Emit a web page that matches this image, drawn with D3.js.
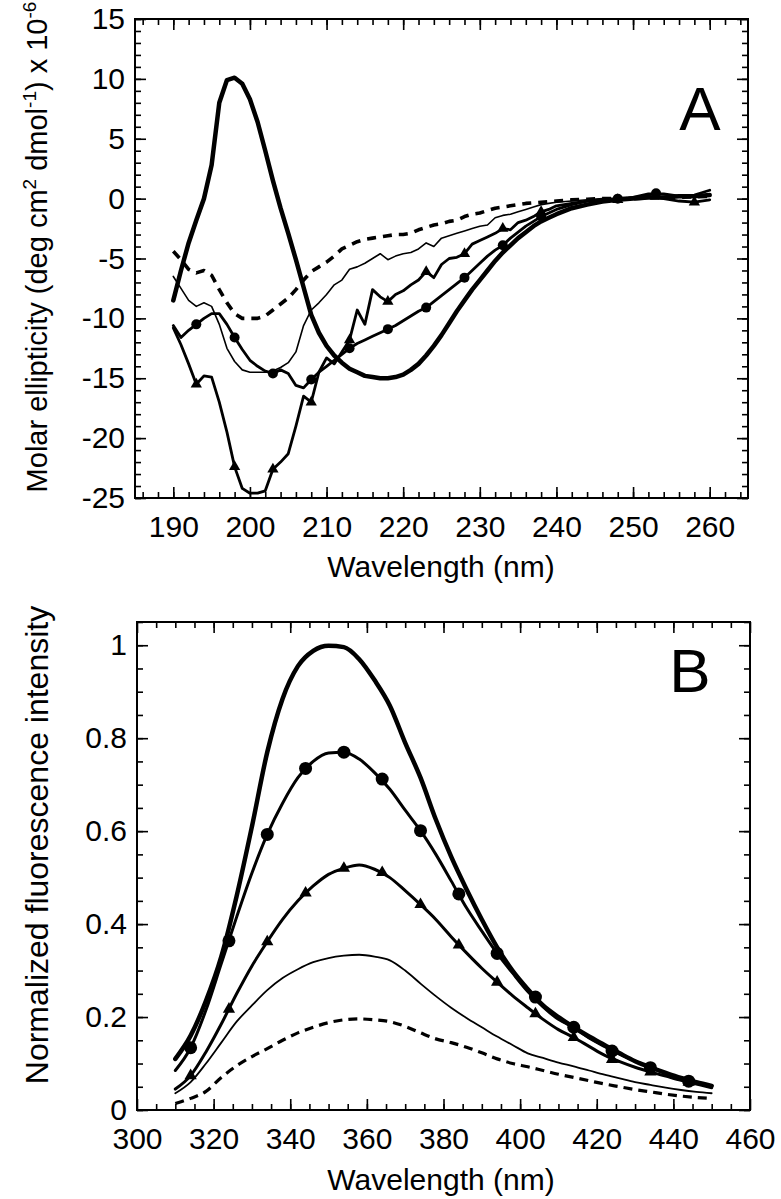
<!DOCTYPE html>
<html><head><meta charset="utf-8">
<script src="https://cdn.jsdelivr.net/npm/d3@7"></script>
<style>body{margin:0;background:#fff} svg{display:block}</style>
</head><body><svg id="c" width="781" height="1199"></svg>
<script>
// ---------- Panel A : CD spectra ----------
const cdWavelength = [190,191,192,193,194,195,196,197,198,199,200,201,202,203,204,205,206,207,208,209,210,211,212,213,214,215,216,217,218,219,220,221,222,223,224,225,226,227,228,229,230,231,232,233,234,235,236,237,238,239,240,242,244,246,248,250,252,254,256,258,260];
const cdThick = [-8.5,-6.0,-3.7,-1.8,0.0,2.8,8.0,9.9,10.1,9.6,8.3,6.4,4.0,1.5,-0.8,-2.9,-5.1,-7.4,-9.7,-11.2,-12.3,-13.1,-13.7,-14.2,-14.5,-14.8,-14.9,-15.0,-15.0,-14.9,-14.7,-14.3,-13.8,-13.1,-12.3,-11.4,-10.4,-9.4,-8.5,-7.6,-6.8,-6.0,-5.2,-4.5,-3.9,-3.3,-2.8,-2.3,-1.9,-1.6,-1.3,-0.8,-0.5,-0.25,-0.1,0.0,0.1,0.1,0.2,0.2,0.3];
const cdDashed = [-4.4,-5.1,-5.9,-6.2,-6.0,-6.4,-7.6,-8.7,-9.6,-10.0,-10.0,-10.0,-9.8,-9.3,-8.8,-8.3,-7.6,-6.8,-6.1,-5.7,-5.3,-4.8,-4.2,-3.9,-3.6,-3.4,-3.3,-3.2,-3.1,-3.0,-3.0,-2.9,-2.6,-2.4,-2.2,-2.1,-1.9,-1.8,-1.5,-1.3,-1.2,-1.0,-0.8,-0.7,-0.6,-0.5,-0.4,-0.35,-0.3,-0.25,-0.2,-0.1,-0.05,0.0,0.0,0.0,0.05,0.1,0.1,0.15,0.2];
const cdThin = [-6.5,-7.5,-8.5,-9.0,-8.7,-9.0,-10.5,-12.5,-13.6,-14.3,-14.5,-14.5,-14.5,-14.4,-14.1,-13.7,-12.8,-10.6,-9.3,-8.7,-8.0,-7.2,-6.8,-5.9,-5.7,-5.4,-5.0,-4.6,-5.1,-4.8,-4.6,-4.5,-4.2,-3.7,-4.0,-3.3,-3.1,-2.9,-2.7,-2.5,-2.3,-2.2,-1.6,-1.4,-1.3,-1.1,-0.9,-0.7,-0.5,-0.4,-0.3,-0.2,-0.1,0.0,0.0,0.1,0.1,0.2,0.2,0.3,0.3];
const cdTriangle = [-10.8,-12.2,-13.8,-15.5,-14.8,-14.9,-17.0,-19.5,-22.4,-24.2,-24.6,-24.6,-24.4,-22.6,-22.0,-21.3,-19.0,-16.5,-17.0,-14.5,-13.3,-13.8,-12.8,-11.8,-9.3,-10.5,-7.6,-8.2,-8.6,-8.0,-7.7,-7.2,-6.8,-6.1,-6.6,-5.5,-5.0,-4.9,-4.6,-3.8,-3.5,-3.2,-2.9,-2.5,-2.6,-2.0,-1.8,-1.5,-1.1,-0.9,-0.6,-0.4,-0.2,-0.1,-0.1,0.1,0.2,0.0,-0.2,-0.3,-0.1];
const cdCircle = [-10.6,-11.6,-11.0,-10.5,-10.0,-9.6,-9.6,-10.5,-11.6,-12.6,-13.5,-14.0,-14.4,-14.6,-14.3,-14.6,-15.6,-15.8,-15.1,-14.5,-14.0,-13.5,-13.0,-12.5,-12.1,-11.8,-11.5,-11.2,-10.9,-10.6,-10.2,-9.8,-9.4,-9.1,-8.6,-8.1,-7.6,-7.1,-6.6,-6.0,-5.4,-4.8,-4.3,-3.9,-3.3,-2.8,-2.3,-1.9,-1.5,-1.2,-0.9,-0.5,-0.2,-0.1,0.0,0.1,0.4,0.4,0.2,0.3,0.7];
const cdCircleMarkWl = [193,198,203,208,213,218,223,228,233,238,248,253];
const cdCircleMarkVal = [-10.5,-11.6,-14.6,-15.1,-12.5,-10.9,-9.1,-6.6,-3.9,-1.5,0.0,0.45];
const cdTriMarkWl = [193,198,203,208,213,218,223,228,233,238,248,258];
const cdTriMarkVal = [-15.5,-22.4,-22.6,-17.0,-11.8,-8.6,-6.1,-4.6,-2.5,-1.1,-0.1,-0.3];
const cdXTicks = [190,200,210,220,230,240,250,260];
const cdYTicks = [-25,-20,-15,-10,-5,0,5,10,15];

// ---------- Panel B : fluorescence ----------
const flWavelength = [310,314,318,322,326,330,334,338,342,346,350,354,358,362,366,370,374,378,382,386,390,394,398,402,406,410,414,418,422,426,430,434,438,442,446,450];
const flThick = [0.11,0.16,0.235,0.33,0.46,0.61,0.77,0.885,0.955,0.988,0.999,0.996,0.97,0.925,0.87,0.79,0.715,0.625,0.545,0.475,0.41,0.35,0.3,0.26,0.225,0.2,0.178,0.158,0.14,0.122,0.105,0.092,0.08,0.069,0.06,0.052];
const flCircle = [0.085,0.134,0.215,0.315,0.415,0.51,0.593,0.66,0.715,0.75,0.768,0.77,0.755,0.726,0.69,0.645,0.601,0.55,0.493,0.435,0.385,0.337,0.295,0.255,0.222,0.195,0.178,0.155,0.137,0.12,0.105,0.091,0.079,0.067,0.058,0.05];
const flTriangle = [0.045,0.074,0.125,0.185,0.25,0.31,0.362,0.41,0.45,0.482,0.507,0.52,0.527,0.518,0.5,0.472,0.442,0.41,0.373,0.338,0.305,0.275,0.246,0.22,0.195,0.173,0.156,0.137,0.118,0.104,0.092,0.082,0.073,0.064,0.056,0.048];
const flThin = [0.036,0.06,0.1,0.145,0.19,0.225,0.258,0.284,0.303,0.318,0.327,0.332,0.334,0.33,0.322,0.3,0.272,0.245,0.22,0.198,0.178,0.158,0.14,0.122,0.112,0.102,0.094,0.085,0.076,0.068,0.06,0.054,0.048,0.043,0.039,0.036];
const flDashed = [0.014,0.025,0.04,0.07,0.095,0.115,0.132,0.15,0.166,0.178,0.188,0.194,0.196,0.194,0.19,0.18,0.166,0.153,0.145,0.135,0.123,0.11,0.1,0.093,0.085,0.077,0.07,0.063,0.056,0.05,0.044,0.039,0.034,0.03,0.027,0.025];
const flCircleMarkWl = [314,324,334,344,354,364,374,384,394,404,414,424,434,444];
const flCircleMarkVal = [0.134,0.364,0.593,0.735,0.77,0.712,0.601,0.465,0.337,0.243,0.178,0.127,0.091,0.062];
const flTriMarkWl = [314,324,334,344,354,364,374,384,394,404,414,424,434,444];
const flTriMarkVal = [0.074,0.217,0.362,0.467,0.52,0.511,0.442,0.355,0.275,0.207,0.156,0.109,0.082,0.06];
const flXTicks = [300,320,340,360,380,400,420,440,460];
const flYTicks = [0,0.2,0.4,0.6,0.8,1];

const FONT = '"Liberation Sans", Arial, Helvetica, sans-serif';
const svg = d3.select('#c');

function frameAxes(x, y, xMajor, xMinor, yMajor, yMinor, fmtY) {
  const g = svg.append('g');
  const [x0, x1] = x.range(), [y0, y1] = y.range();
  const fmt = d => String(d);
  const styl = sel => { sel.select('.domain').remove(); sel.selectAll('line').attr('stroke','#000').attr('stroke-width',1.6);
    sel.selectAll('text').attr('font-family',FONT).attr('font-size',30).attr('fill','#000'); };
  g.append('g').attr('transform',`translate(0,${y0})`).call(d3.axisBottom(x).tickValues(xMinor).tickSize(-6).tickFormat('')).call(styl);
  g.append('g').attr('transform',`translate(0,${y0})`).call(d3.axisBottom(x).tickValues(xMajor).tickSize(-11).tickPadding(18).tickFormat(fmt)).call(styl);
  g.append('g').attr('transform',`translate(0,${y1})`).call(d3.axisTop(x).tickValues(xMinor).tickSize(-6).tickFormat('')).call(styl);
  g.append('g').attr('transform',`translate(0,${y1})`).call(d3.axisTop(x).tickValues(xMajor).tickSize(-11).tickFormat('')).call(styl);
  g.append('g').attr('transform',`translate(${x0},0)`).call(d3.axisLeft(y).tickValues(yMinor).tickSize(-6).tickFormat('')).call(styl);
  g.append('g').attr('transform',`translate(${x0},0)`).call(d3.axisLeft(y).tickValues(yMajor).tickSize(-11).tickPadding(10).tickFormat(fmtY)).call(styl);
  g.append('g').attr('transform',`translate(${x1},0)`).call(d3.axisRight(y).tickValues(yMinor).tickSize(-6).tickFormat('')).call(styl);
  g.append('g').attr('transform',`translate(${x1},0)`).call(d3.axisRight(y).tickValues(yMajor).tickSize(-11).tickFormat('')).call(styl);
  g.append('rect').attr('x',x0).attr('y',y1).attr('width',x1-x0).attr('height',y0-y1)
    .attr('fill','none').attr('stroke','#000').attr('stroke-width',2);
}

function drawLine(x, y, xs, ys, width, dash, curve) {
  const pts = xs.map((d,i)=>[d, ys[i]]);
  svg.append('path').datum(pts)
    .attr('d', d3.line().x(d=>x(d[0])).y(d=>y(d[1])).curve(curve))
    .attr('fill','none').attr('stroke','#000').attr('stroke-width',width)
    .attr('stroke-linejoin','round').attr('stroke-linecap', dash ? 'butt' : 'round')
    .attr('stroke-dasharray', dash || null);
}
function drawCircles(x, y, xs, ys, r) {
  svg.append('g').selectAll('circle').data(xs.map((d,i)=>[d,ys[i]])).join('circle')
    .attr('cx',d=>x(d[0])).attr('cy',d=>y(d[1])).attr('r',r).attr('fill','#000');
}
function drawTris(x, y, xs, ys, size) {
  const sym = d3.symbol().type(d3.symbolTriangle).size(size);
  svg.append('g').selectAll('path').data(xs.map((d,i)=>[d,ys[i]])).join('path')
    .attr('transform',d=>`translate(${x(d[0])},${y(d[1])})`).attr('d',sym).attr('fill','#000');
}

// ---------- Panel A ----------
const xA = d3.scaleLinear().domain([185,265]).range([135,748]);
const yA = d3.scaleLinear().domain([-25,15]).range([498,19]);
frameAxes(xA, yA, cdXTicks, d3.range(186,265,2), cdYTicks, d3.range(-25,16,1), d=>String(d));
const L = d3.curveLinear;
drawLine(xA, yA, cdWavelength, cdDashed, 3.6, '9,7', L);
drawLine(xA, yA, cdWavelength, cdThin, 1.6, null, L);
drawLine(xA, yA, cdWavelength, cdTriangle, 2.8, null, L);
drawLine(xA, yA, cdWavelength, cdCircle, 2.8, null, L);
drawLine(xA, yA, cdWavelength, cdThick, 4.5, null, L);
drawCircles(xA, yA, cdCircleMarkWl, cdCircleMarkVal, 5);
drawTris(xA, yA, cdTriMarkWl, cdTriMarkVal, 55);

svg.append('text').attr('x',700).attr('y',130).attr('text-anchor','middle')
  .attr('font-family',FONT).attr('font-size',62).text('A');
svg.append('text').attr('x',441).attr('y',577).attr('text-anchor','middle')
  .attr('font-family',FONT).attr('font-size',30).text('Wavelength (nm)');
const tA = svg.append('text').attr('transform','translate(47,247) rotate(-90)').attr('text-anchor','middle')
  .attr('font-family',FONT).attr('font-size',29);
tA.append('tspan').text('Molar ellipticity (deg cm');
tA.append('tspan').attr('dy',-11).attr('font-size',19).text('2');
tA.append('tspan').attr('dy',11).text(' dmol');
tA.append('tspan').attr('dy',-11).attr('font-size',19).text('-1');
tA.append('tspan').attr('dy',11).text(') x 10');
tA.append('tspan').attr('dy',-11).attr('font-size',19).text('-6');

// ---------- Panel B ----------
const xB = d3.scaleLinear().domain([300,460]).range([137,750]);
const yB = d3.scaleLinear().domain([0,1.05]).range([1110,622]);
frameAxes(xB, yB, flXTicks, d3.range(305,460,5), flYTicks, d3.range(0,1.051,0.05), d=>String(d));
const C = d3.curveMonotoneX;
drawLine(xB, yB, flWavelength, flDashed, 3.2, '9,6', C);
drawLine(xB, yB, flWavelength, flThin, 1.8, null, C);
drawLine(xB, yB, flWavelength, flTriangle, 3.0, null, C);
drawLine(xB, yB, flWavelength, flCircle, 3.0, null, C);
drawLine(xB, yB, flWavelength, flThick, 4.5, null, C);
drawCircles(xB, yB, flCircleMarkWl, flCircleMarkVal, 6.5);
drawTris(xB, yB, flTriMarkWl, flTriMarkVal, 65);

svg.append('text').attr('x',690).attr('y',692).attr('text-anchor','middle')
  .attr('font-family',FONT).attr('font-size',62).text('B');
svg.append('text').attr('x',441).attr('y',1190).attr('text-anchor','middle')
  .attr('font-family',FONT).attr('font-size',30).text('Wavelength (nm)');
svg.append('text').attr('transform','translate(48,845) rotate(-90)').attr('text-anchor','middle')
  .attr('font-family',FONT).attr('font-size',32).text('Normalized fluorescence intensity');
</script></body></html>
